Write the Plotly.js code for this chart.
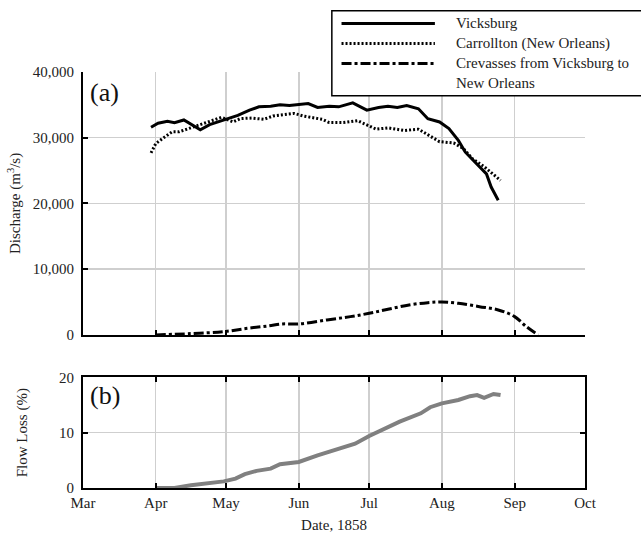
<!DOCTYPE html>
<html>
<head>
<meta charset="utf-8">
<script src="https://cdn.plot.ly/plotly-3.0.1.min.js"></script>
<style>html,body{margin:0;padding:0;background:#fff;}#chart{width:641px;height:533px;}</style>
</head>
<body>
<div id="chart"></div>
<script>
// Vicksburg discharge (m3/s)
var vicksDates = ['1858-03-30','1858-04-02','1858-04-06','1858-04-09','1858-04-13','1858-04-16','1858-04-20','1858-04-24','1858-04-28','1858-05-02','1858-05-06','1858-05-11','1858-05-15','1858-05-20','1858-05-24','1858-05-28','1858-06-01','1858-06-05','1858-06-09','1858-06-14','1858-06-18','1858-06-24','1858-06-30','1858-07-05','1858-07-09','1858-07-13','1858-07-17','1858-07-22','1858-07-26','1858-07-31','1858-08-04','1858-08-08','1858-08-11','1858-08-15','1858-08-20','1858-08-22','1858-08-25'];
var vicksValues = [31600,32200,32500,32300,32700,32000,31200,32000,32500,32900,33400,34200,34700,34800,35000,34900,35100,35200,34600,34800,34700,35300,34200,34600,34800,34600,34900,34400,32900,32400,31400,29600,27800,26300,24500,22500,20500];

// Carrollton (New Orleans) discharge (m3/s)
var carrDates = ['1858-03-30','1858-04-01','1858-04-04','1858-04-08','1858-04-11','1858-04-15','1858-04-19','1858-04-23','1858-04-29','1858-05-04','1858-05-07','1858-05-12','1858-05-17','1858-05-21','1858-05-25','1858-05-30','1858-06-03','1858-06-07','1858-06-11','1858-06-14','1858-06-20','1858-06-26','1858-06-30','1858-07-04','1858-07-09','1858-07-16','1858-07-22','1858-07-26','1858-07-31','1858-08-06','1858-08-10','1858-08-14','1858-08-19','1858-08-22','1858-08-26'];
var carrValues = [27700,29100,29900,30900,30900,31400,31900,32400,33100,32400,32900,33000,32800,33300,33500,33700,33300,33100,32800,32300,32300,32600,31900,31300,31500,31100,31300,30400,29400,29200,28400,26800,25600,24700,23500];

// Crevasses from Vicksburg to New Orleans (m3/s)
var crevDates = ['1858-04-01','1858-04-16','1858-04-30','1858-05-10','1858-05-19','1858-05-25','1858-06-01','1858-06-13','1858-06-23','1858-07-01','1858-07-09','1858-07-18','1858-07-26','1858-08-01','1858-08-08','1858-08-17','1858-08-25','1858-09-01','1858-09-06','1858-09-11'];
var crevValues = [0,200,500,1000,1370,1670,1670,2280,2780,3290,3900,4560,4910,5010,4810,4300,3800,2780,1260,0];

// Flow loss (%)
var lossDates = ['1858-04-01','1858-04-09','1858-04-16','1858-04-23','1858-04-30','1858-05-05','1858-05-09','1858-05-14','1858-05-20','1858-05-24','1858-06-01','1858-06-09','1858-06-18','1858-06-25','1858-07-01','1858-07-07','1858-07-14','1858-07-23','1858-07-27','1858-08-01','1858-08-08','1858-08-13','1858-08-16','1858-08-19','1858-08-23','1858-08-26'];
var lossValues = [0,0,0.5,0.8,1.2,1.7,2.5,3.1,3.5,4.3,4.7,5.9,7.1,8.0,9.4,10.6,12.0,13.5,14.6,15.3,15.9,16.6,16.8,16.3,17.0,16.8];

var seriesNames = ['Vicksburg','Carrollton (New Orleans)','Crevasses from Vicksburg to<br>New Orleans'];
var monthTicks = ['1858-03-01','1858-04-01','1858-05-01','1858-06-01','1858-07-01','1858-08-01','1858-09-01','1858-10-01'];
var monthLabels = ['Mar','Apr','May','Jun','Jul','Aug','Sep','Oct'];

var FONT = '"Liberation Serif", "Times New Roman", serif';

var traces = [
  {x: vicksDates, y: vicksValues, xaxis:'x2', yaxis:'y2', mode:'lines', name: seriesNames[0],
   line:{color:'#000', width:3}},
  {x: carrDates, y: carrValues, xaxis:'x2', yaxis:'y2', mode:'lines', name: seriesNames[1],
   line:{color:'#000', width:3, dash:'2px,2px'}},
  {x: crevDates, y: crevValues, xaxis:'x2', yaxis:'y2', mode:'lines', name: seriesNames[2],
   line:{color:'#000', width:3, dash:'10px,3px,3px,3px', shape:'spline'}},
  {x: lossDates, y: lossValues, xaxis:'x', yaxis:'y', mode:'lines', name:'Flow Loss',
   line:{color:'#808080', width:4}}
];

var gridc = '#cfcfcf';
var tfont = {family:FONT, size:15, color:'#222'};
var layout = {
  width: 641, height: 533,
  margin: {l:83, r:56, t:72, b:45},
  paper_bgcolor:'#fff', plot_bgcolor:'#fff',
  showlegend: false,
  font: {family: FONT, size: 15, color:'#222'},
  xaxis: {
    type:'date', anchor:'y', range:['1858-03-01','1858-10-01'],
    tickmode:'array', tickvals: monthTicks, ticktext: monthLabels,
    tickfont: tfont,
    showgrid:true, gridcolor:gridc, gridwidth:1.5,
    showline:true, linecolor:'#000', linewidth:2, mirror:'ticks',
    ticks:'inside', ticklen:5, tickwidth:2, tickcolor:'#000',
    ticklabelstandoff: 0,
    title:{text:'Date, 1858', font:tfont, standoff: 12},
    zeroline:false
  },
  yaxis: {
    domain:[0, 0.266], range:[0,20], tickvals:[0,10,20],
    tickfont: tfont, ticklabelstandoff: 4,
    showgrid:true, gridcolor:gridc, gridwidth:1.5,
    showline:true, linecolor:'#000', linewidth:2, mirror:'ticks',
    ticks:'inside', ticklen:5, tickwidth:2, tickcolor:'#000',
    zeroline:false,
    title:{text:'Flow Loss (%)', font:tfont, standoff: 28}
  },
  xaxis2: {
    type:'date', anchor:'y2', matches:'x', range:['1858-03-01','1858-10-01'],
    tickmode:'array', tickvals: monthTicks, ticktext: monthLabels, showticklabels:false,
    showgrid:true, gridcolor:gridc, gridwidth:1.5,
    showline:true, linecolor:'#000', linewidth:2,
    ticks:'inside', ticklen:5, tickwidth:2, tickcolor:'#000',
    zeroline:false
  },
  yaxis2: {
    domain:[0.368, 1], range:[0,40000], tickvals:[0,10000,20000,30000,40000],
    tickformat:',d', tickfont: tfont, ticklabelstandoff: 4,
    showgrid:true, gridcolor:gridc, gridwidth:1.5,
    showline:true, linecolor:'#000', linewidth:2,
    ticks:'inside', ticklen:5, tickwidth:2, tickcolor:'#000',
    zeroline:false,
    title:{text:'Discharge (m<sup>3</sup>/s)', font:tfont, standoff: 8}
  },
  shapes: [
    {type:'rect', xref:'paper', yref:'paper', x0:0.4957, x1:1.14, y0:0.943, y1:1.147,
     line:{color:'#000', width:1.5}, fillcolor:'#fff', layer:'above'},
    {type:'line', xref:'paper', yref:'paper', x0:0.515, x1:0.701, y0:1.1167, y1:1.1167,
     line:{color:'#000', width:3}, layer:'above'},
    {type:'line', xref:'paper', yref:'paper', x0:0.515, x1:0.701, y0:1.0687, y1:1.0687,
     line:{color:'#000', width:3, dash:'2px,2px'}, layer:'above'},
    {type:'line', xref:'paper', yref:'paper', x0:0.515, x1:0.701, y0:1.0207, y1:1.0207,
     line:{color:'#000', width:3, dash:'10px,3px,3px,3px'}, layer:'above'}
  ],
  annotations: [
    {xref:'paper', yref:'paper', x:0.739, y:1.1167, xanchor:'left', yanchor:'middle', showarrow:false,
     text: seriesNames[0], font:tfont},
    {xref:'paper', yref:'paper', x:0.739, y:1.0687, xanchor:'left', yanchor:'middle', showarrow:false,
     text: seriesNames[1], font:tfont},
    {xref:'paper', yref:'paper', x:0.739, y:0.998, xanchor:'left', yanchor:'middle', showarrow:false, align:'left',
     text: seriesNames[2], font:tfont},
    {xref:'paper', yref:'paper', x:0.01, y:0.99, xanchor:'left', yanchor:'top', showarrow:false,
     text:'(a)', font:{family:FONT, size:26, color:'#111'}},
    {xref:'paper', yref:'paper', x:0.01, y:0.262, xanchor:'left', yanchor:'top', showarrow:false,
     text:'(b)', font:{family:FONT, size:26, color:'#111'}}
  ]
};

Plotly.newPlot('chart', traces, layout, {displayModeBar:false, staticPlot:true});
</script>
</body>
</html>
